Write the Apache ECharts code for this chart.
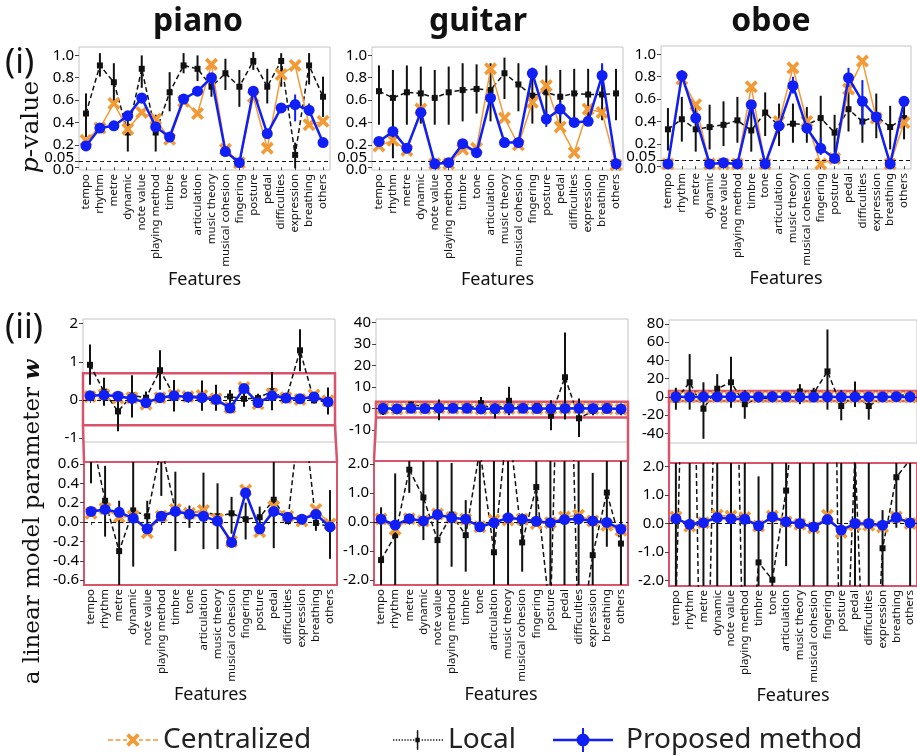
<!DOCTYPE html>
<html><head><meta charset="utf-8">
<script src="https://cdn.jsdelivr.net/npm/echarts@6/dist/echarts.min.js"></script>
<style>html,body{margin:0;padding:0;background:#fff}#c{width:917px;height:756px}</style>
</head><body><div id="c"></div>
<script>
// ---------------- DATA ----------------
const features = ['tempo','rhythm','metre','dynamic','note value','playing method','timbre','tone','articulation','music theory','musical cohesion','fingering','posture','pedal','difficulties','expression','breathing','others'];

// (i) p-values
const pianoP_central = [0.24,0.35,0.57,0.34,0.49,0.43,0.25,0.59,0.48,0.92,0.16,0.04,0.63,0.17,0.83,0.91,0.38,0.41];
const pianoP_local   = [0.48,0.91,0.76,0.31,0.88,0.31,0.67,0.91,0.88,0.72,0.84,0.72,0.95,0.72,0.95,0.11,0.91,0.63];
const pianoP_localLo = [0.27,0.81,0.59,0.14,0.71,0.14,0.50,0.84,0.77,0.63,0.69,0.54,0.87,0.57,0.72,-0.01,0.74,0.45];
const pianoP_localHi = [0.66,1.02,0.93,0.47,1.00,0.47,0.85,1.02,1.00,0.84,0.97,0.87,1.03,0.88,1.02,0.22,1.02,0.81];
const pianoP_prop    = [0.19,0.35,0.37,0.46,0.62,0.36,0.27,0.61,0.68,0.80,0.14,0.04,0.68,0.30,0.53,0.56,0.51,0.22];
const pianoP_propLo  = [0.18,0.33,0.35,0.43,0.57,0.33,0.26,0.59,0.64,0.77,0.13,0.03,0.66,0.28,0.50,0.41,0.46,0.21];
const pianoP_propHi  = [0.20,0.37,0.39,0.49,0.66,0.39,0.28,0.63,0.72,0.83,0.15,0.05,0.70,0.32,0.56,0.65,0.57,0.23];

const guitarP_central = [0.19,0.24,0.15,0.52,0.03,0.03,0.16,0.17,0.88,0.44,0.20,0.58,0.73,0.36,0.13,0.52,0.49,0.02];
const guitarP_local   = [0.68,0.62,0.67,0.66,0.62,0.67,0.69,0.70,0.69,0.84,0.74,0.64,0.67,0.63,0.66,0.65,0.65,0.66];
const guitarP_localLo = [0.38,0.08,0.38,0.39,0.38,0.38,0.41,0.48,0.41,0.61,0.50,0.39,0.42,0.39,0.41,0.42,0.42,0.42];
const guitarP_localHi = [0.91,0.87,0.91,0.90,0.87,0.90,0.93,0.92,0.93,0.98,0.93,0.88,0.91,0.87,0.88,0.88,0.91,0.88];
const guitarP_prop    = [0.23,0.32,0.17,0.49,0.03,0.04,0.21,0.13,0.62,0.22,0.22,0.84,0.43,0.52,0.40,0.41,0.82,0.03];
const guitarP_propLo  = [0.21,0.28,0.16,0.47,0.02,0.03,0.20,0.12,0.58,0.21,0.21,0.80,0.36,0.45,0.36,0.37,0.73,0.02];
const guitarP_propHi  = [0.25,0.36,0.18,0.51,0.04,0.05,0.22,0.14,0.66,0.23,0.23,0.89,0.50,0.59,0.44,0.45,0.93,0.04];

const oboeP_central = [0.02,0.78,0.55,0.02,0.02,0.02,0.71,0.02,0.40,0.88,0.40,0.02,0.07,0.69,0.94,0.43,0.02,0.39];
const oboeP_local   = [0.33,0.42,0.33,0.35,0.37,0.41,0.32,0.48,0.36,0.38,0.37,0.43,0.30,0.51,0.40,0.45,0.35,0.43];
const oboeP_localLo = [0.14,0.22,0.13,0.15,0.18,0.21,0.13,0.27,0.18,0.21,0.21,0.21,0.12,0.31,0.21,0.25,0.15,0.24];
const oboeP_localHi = [0.52,0.62,0.53,0.55,0.58,0.62,0.52,0.66,0.56,0.56,0.53,0.63,0.46,0.71,0.61,0.65,0.54,0.62];
const oboeP_prop    = [0.02,0.81,0.43,0.02,0.03,0.02,0.55,0.02,0.36,0.72,0.34,0.16,0.07,0.79,0.58,0.44,0.02,0.58];
const oboeP_propLo  = [0.01,0.77,0.41,0.01,0.02,0.01,0.53,0.01,0.34,0.65,0.32,0.10,0.06,0.71,0.36,0.42,0.01,0.55];
const oboeP_propHi  = [0.03,0.86,0.45,0.03,0.04,0.03,0.57,0.03,0.38,0.80,0.36,0.25,0.08,0.88,0.77,0.46,0.03,0.62];

// (ii) linear model parameter w
const pianoW_central = [0.09,0.14,0.05,0.06,-0.11,0.06,0.13,0.09,0.12,0.03,-0.20,0.33,-0.10,0.16,0.06,0.01,0.13,-0.02];
const pianoW_local   = [0.92,0.22,-0.30,0.12,0.06,0.78,0.12,0.09,0.12,0.06,0.09,0.03,0.05,0.23,0.01,1.30,-0.01,-0.05];
const pianoW_localLo = [0.40,-0.15,-0.82,-0.46,-0.12,0.27,-0.30,-0.06,-0.28,-0.28,-0.12,-0.18,-0.06,-0.27,-0.01,0.75,-0.09,-0.38];
const pianoW_localHi = [1.45,0.58,0.22,0.65,0.22,1.30,0.52,0.17,0.51,0.40,0.26,0.20,0.16,0.73,0.07,1.85,0.09,0.33];
const pianoW_prop    = [0.11,0.13,0.10,0.04,-0.07,0.06,0.11,0.08,0.06,0.01,-0.21,0.30,-0.07,0.11,0.05,0.03,0.08,-0.05];

const guitarW_central = [0.10,-0.26,0.11,0.03,0.27,0.14,0.09,-0.17,0.06,0.06,0.09,-0.06,-0.03,0.17,0.23,0.03,-0.12,-0.29];
const guitarW_local   = [-1.32,-0.46,1.80,0.84,-0.63,0.25,-0.46,2.5,-1.05,3.6,-0.71,1.2,-3.3,14.5,-4.5,-1.15,1.01,-0.75];
const guitarW_localLo = [-3.0,-2.6,1.0,-0.63,-5.4,-1.55,-1.72,0.0,-4.6,-3.1,-1.72,0.1,-10.1,-5.1,-13.2,-3.1,-0.86,-3.1];
const guitarW_localHi = [0.5,1.67,3.3,2.3,4.2,2.03,0.75,5.4,2.3,10.1,0.29,2.5,3.9,35.3,4.7,1.69,2.5,2.3];
const guitarW_prop    = [0.09,-0.11,0.11,0.03,0.25,0.14,0.09,-0.17,-0.03,0.14,0.09,0.02,-0.03,0.08,0.10,0.03,-0.02,-0.25];

const oboeW_central = [0.23,-0.09,0.03,0.29,0.26,0.21,-0.09,0.26,0.06,-0.03,-0.15,0.29,-0.31,-0.06,-0.06,-0.12,0.23,0.0];
const oboeW_local   = [-3,16,-13,9,16,-8,-1.37,-1.98,1.16,6,4,28,-10,2.5,-10,-0.87,1.63,2.25];
const oboeW_localLo = [-14,-14,-46,-5.5,-12,-24,-6,-6,-1.5,-8,-3,-14,-25.7,-11,-25,-5,-0.15,-3];
const oboeW_localHi = [10,47,16,25,44,7.3,1.66,6,4,14,10,74,7.3,17,2.5,0.47,3,6];
const oboeW_prop    = [0.17,-0.03,0.03,0.21,0.17,0.15,-0.08,0.23,0.06,0.0,-0.12,0.14,-0.23,0.0,0.0,-0.06,0.21,0.02];

const instruments = ['piano','guitar','oboe'];
const pTicks = [0,0.2,0.4,0.6,0.8,1.0];
const pThreshold = [0.05];
const wUpperTicks = [[-1,0,1,2],[-10,0,10,20,30,40],[-40,-20,0,20,40,60,80]];
const wLowerTicks = [[-0.6,-0.4,-0.2,0,0.2,0.4,0.6],[-2,-1,0,1,2],[-2,-1,0,1,2]];
const zoomBand = [[-0.66,0.70],[-4.2,3.2],[-4.4,6.6]];

// ---------------- STYLE / LAYOUT ----------------
const FONT = "'Noto Sans', sans-serif";
const BLUE = '#0f1ff5', ORANGE = '#f29a36', RED = '#d9546a', BORDER = '#c4c4c4';

const gridP = [{left:79,top:47,width:251,height:123},{left:372,top:47,width:251,height:123},{left:661,top:46,width:250,height:123}];
const gridWU = [{left:83,top:319,width:252,height:123},{left:376,top:319,width:252,height:123},{left:669,top:320,width:252,height:123}];
const gridWL = [{left:84,top:462,width:253,height:123},{left:374,top:461,width:254,height:124},{left:669,top:463,width:252,height:123}];
const rangeP = [-0.025,1.075];
const rangeWU = [[-1.1,2.12],[-15.5,41.5],[-50.6,84.4]];
const rangeWL = [[-0.65,0.62],[-2.18,2.1],[-2.2,2.13]];

const D = {
  pianoP:{c:pianoP_central,l:pianoP_local,lLo:pianoP_localLo,lHi:pianoP_localHi,p:pianoP_prop,pLo:pianoP_propLo,pHi:pianoP_propHi},
  guitarP:{c:guitarP_central,l:guitarP_local,lLo:guitarP_localLo,lHi:guitarP_localHi,p:guitarP_prop,pLo:guitarP_propLo,pHi:guitarP_propHi},
  oboeP:{c:oboeP_central,l:oboeP_local,lLo:oboeP_localLo,lHi:oboeP_localHi,p:oboeP_prop,pLo:oboeP_propLo,pHi:oboeP_propHi},
  pianoW:{c:pianoW_central,l:pianoW_local,lLo:pianoW_localLo,lHi:pianoW_localHi,p:pianoW_prop},
  guitarW:{c:guitarW_central,l:guitarW_local,lLo:guitarW_localLo,lHi:guitarW_localHi,p:guitarW_prop},
  oboeW:{c:oboeW_central,l:oboeW_local,lLo:oboeW_localLo,lHi:oboeW_localHi,p:oboeW_prop}
};

const XMARK = 'path://M2,0 L5,3 L8,0 L10,2 L7,5 L10,8 L8,10 L5,7 L2,10 L0,8 L3,5 L0,2 Z';

function zip(lo, hi){ return lo.map((v,i)=>[i, v, hi[i]]); }
function errRender(color, w){
  return function(params, api){
    const x = api.value(0);
    const a = api.coord([x, api.value(1)]);
    const b = api.coord([x, api.value(2)]);
    return {type:'line', shape:{x1:a[0],y1:a[1],x2:b[0],y2:b[1]}, style:{stroke:color, lineWidth:w}};
  };
}

const grids = [], xAxes = [], yAxes = [], series = [];
const labelBase = {fontSize:15, fontFamily:FONT, color:'#000'};

function addPanel(gi, g, range, ticks, fmt, data, opts){
  grids.push(Object.assign({show:true, borderColor: opts.border || BORDER, borderWidth: opts.borderWidth || 1, backgroundColor:'transparent', containLabel:false}, g));
  xAxes.push({
    type:'category', gridIndex:gi, data:features, boundaryGap:true,
    axisLine:{show:false},
    axisTick:{show:true, alignWithLabel:true, interval:0, length:3, lineStyle:{color:'#444'}},
    axisLabel:{show:!!opts.xlabels, interval:0, rotate:90, fontSize:11.5, fontFamily:FONT, color:'#111', margin:4, hideOverlap:false},
    name: opts.xlabels ? 'Features' : '', nameLocation:'middle', nameGap: opts.nameGap || 92,
    nameTextStyle:{fontSize:18, fontFamily:FONT, color:'#111'}
  });
  yAxes.push({
    type:'value', gridIndex:gi, min:range[0], max:range[1],
    splitLine:{show:false}, axisLine:{show:false},
    axisTick:{show:true, length:4, customValues:ticks, lineStyle:{color:'#444'}},
    axisLabel:Object.assign({customValues:ticks, formatter:fmt, margin:5, hideOverlap:false, showMinLabel:true, showMaxLabel:true}, labelBase, opts.rich ? {rich:opts.rich} : {})
  });
  const common = {xAxisIndex:gi, yAxisIndex:gi, showAllSymbol:true, showSymbol:true};
  series.push(Object.assign({}, common, {type:'custom', name:'Local err', clip:true, renderItem:errRender('#111',2),
    encode:{x:0,y:[1,2]}, data:zip(data.lLo, data.lHi), z:2}));
  series.push(Object.assign({}, common, {type:'line', name:'Local', data:data.l, symbol:'rect', symbolSize:6,
    itemStyle:{color:'#111'}, lineStyle:{color:'#111', width:1.5, type:[5,3]}, z:3,
    markLine:{silent:true, symbol:'none', label:{show:false}, lineStyle:{color:'#111', width:1, type:[4,3]},
      data:[{yAxis: opts.ref}]}
  }));
  const cen = Object.assign({}, common, {type:'line', name:'Centralized', data:data.c, symbol:XMARK, symbolSize:13,
    itemStyle:{color:ORANGE}, lineStyle:{color:ORANGE, width:1.5}, z:4});
  if (opts.band) {
    cen.markArea = {silent:true, itemStyle:{color:'rgba(0,0,0,0)', borderColor:RED, borderWidth:2.5},
      data:[[{yAxis:opts.band[1]},{yAxis:opts.band[0]}]]};
  }
  series.push(cen);
  if (data.pLo) {
    series.push(Object.assign({}, common, {type:'custom', name:'Proposed err', clip:true, renderItem:errRender(BLUE,2),
      encode:{x:0,y:[1,2]}, data:zip(data.pLo, data.pHi), z:5}));
  }
  series.push(Object.assign({}, common, {type:'line', name:'Proposed method', data:data.p, symbol:'circle', symbolSize:11,
    itemStyle:{color:BLUE}, lineStyle:{color:BLUE, width:2.5}, z:6}));
}

const pRich = {
  b:Object.assign({padding:[5,0,0,0]}, labelBase)
};
const pFmt = v => (Math.abs(v)<1e-9 ? '{b|0.0}' : v.toFixed(1));
const intFmt = v => String(Math.round(v));
const decFmt = v => (Math.abs(v)<1e-9 ? '0.0' : v.toFixed(1));

let gi = 0;
instruments.forEach((ins, k) => {
  addPanel(gi++, gridP[k], rangeP, pTicks, pFmt, D[ins+'P'], {xlabels:true, ref:0.05, rich:pRich, nameGap:92});
});
instruments.forEach((ins, k) => {
  addPanel(gi++, gridWU[k], rangeWU[k], wUpperTicks[k], intFmt, D[ins+'W'], {xlabels:false, ref:0, band:zoomBand[k]});
});
instruments.forEach((ins, k) => {
  addPanel(gi++, gridWL[k], rangeWL[k], wLowerTicks[k], decFmt, D[ins+'W'], {xlabels:true, ref:0, border:RED, borderWidth:2, nameGap:94});
});
// extra y axes carrying the 0.05 significance label on the p-value panels
for (let k=0; k<3; k++){
  yAxes.push({
    type:'value', gridIndex:k, min:rangeP[0], max:rangeP[1], position:'left',
    splitLine:{show:false}, axisLine:{show:false},
    axisTick:{show:true, length:4, customValues:pThreshold, lineStyle:{color:'#444'}},
    axisLabel:Object.assign({customValues:pThreshold, formatter: v => '{a|' + v.toFixed(2) + '}', margin:5, hideOverlap:false,
      rich:{a:Object.assign({padding:[0,0,7,0]}, labelBase)}}, labelBase)
  });
}

// legend icons (60x24 boxes)
function dashes(segs, y0, y1){ return segs.map(s=>`M${s[0]},${y0} L${s[1]},${y0} L${s[1]},${y1} L${s[0]},${y1} Z`).join(' '); }
const anchors = 'M0,0 L0.01,0 L0,0.01 Z M0,24 L0.01,24 L0,23.99 Z M60,0 L59.99,0 L60,0.01 Z';
const ICON_C = 'path://' + anchors + ' ' + dashes([[0,6],[9,15],[18,23],[37,42],[45,51],[54,60]],11,13) +
  ' M25.2,4 L30,8.8 L34.8,4 L38,7.2 L33.2,12 L38,16.8 L34.8,20 L30,15.2 L25.2,20 L22,16.8 L26.8,12 L22,7.2 Z';
let dots = []; for (let x=0; x<60; x+=3.5){ if (x<26 || x>33) dots.push([x, x+1.6]); }
const ICON_L = 'path://' + anchors + ' ' + dashes(dots, 11.2, 12.8) +
  ' M27.3,9.3 L32.7,9.3 L32.7,14.7 L27.3,14.7 Z M29.1,0 L30.9,0 L30.9,24 L29.1,24 Z';
const ICON_P = 'path://' + anchors + ' M0,10.8 L60,10.8 L60,13.2 L0,13.2 Z M29,0 L31,0 L31,24 L29,24 Z' +
  ' M36.5,12 A6.5,6.5 0 1,1 23.5,12 A6.5,6.5 0 1,1 36.5,12 Z';
const legendText = {fontSize:28, fontFamily:FONT, color:'#222'};

const chart = echarts.init(document.getElementById('c'), null, {renderer:'canvas'});
chart.setOption({
  backgroundColor:'#fff',
  animation:false,
  grid:grids, xAxis:xAxes, yAxis:yAxes, series:series,
  legend:[
    {left:103, top:721, itemWidth:50, itemHeight:20, selectedMode:false, data:[{name:'Centralized', icon:ICON_C}], textStyle:legendText},
    {left:388, top:721, itemWidth:50, itemHeight:20, selectedMode:false, data:[{name:'Local', icon:ICON_L}], textStyle:legendText},
    {left:548, top:721, itemWidth:60, itemHeight:24, selectedMode:false, data:[{name:'Proposed method', icon:ICON_P}], textStyle:Object.assign({padding:[0,0,0,8]}, legendText)}
  ]
});

// decorations: titles, panel labels, axis titles, zoom connectors
const graphics = [
  {type:'text', x:198, y:22, style:{text:'piano', fontSize:32, fontWeight:'bold', fontFamily:FONT, fill:'#111', align:'center', verticalAlign:'middle'}},
  {type:'text', x:478, y:22, style:{text:'guitar', fontSize:32, fontWeight:'bold', fontFamily:FONT, fill:'#111', align:'center', verticalAlign:'middle'}},
  {type:'text', x:771, y:22, style:{text:'oboe', fontSize:32, fontWeight:'bold', fontFamily:FONT, fill:'#111', align:'center', verticalAlign:'middle'}},
  {type:'text', x:5, y:63, style:{text:'(i)', fontSize:34, fontFamily:FONT, fill:'#111', align:'left', verticalAlign:'middle'}},
  {type:'text', x:5, y:328, style:{text:'(ii)', fontSize:34, fontFamily:FONT, fill:'#111', align:'left', verticalAlign:'middle'}},
  {type:'text', x:31, y:127, rotation:Math.PI/2, style:{text:'{i|p}-value', fontSize:25, fontFamily:"'DejaVu Serif', serif", fill:'#111', align:'center', verticalAlign:'middle',
    rich:{i:{fontStyle:'italic', fontSize:25, fontFamily:"'DejaVu Serif', serif", fill:'#111'}}}},
  {type:'text', x:33, y:522, rotation:Math.PI/2, style:{text:'a linear model parameter {w|w}', fontSize:23, fontFamily:"'DejaVu Serif', serif", fill:'#111', align:'center', verticalAlign:'middle',
    rich:{w:{fontStyle:'italic', fontWeight:'bold', fontSize:23, fontFamily:"'DejaVu Serif', serif", fill:'#111'}}}}
];
for (let k=0; k<3; k++){
  const yb = chart.convertToPixel({yAxisIndex:3+k}, zoomBand[k][0]);
  const u = gridWU[k], l = gridWL[k];
  graphics.push({type:'line', shape:{x1:u.left, y1:yb, x2:l.left, y2:l.top}, style:{stroke:RED, lineWidth:2.5}, z:10});
  graphics.push({type:'line', shape:{x1:u.left+u.width, y1:yb, x2:l.left+l.width, y2:l.top}, style:{stroke:RED, lineWidth:2.5}, z:10});
}
chart.setOption({graphic:graphics});
</script></body></html>
